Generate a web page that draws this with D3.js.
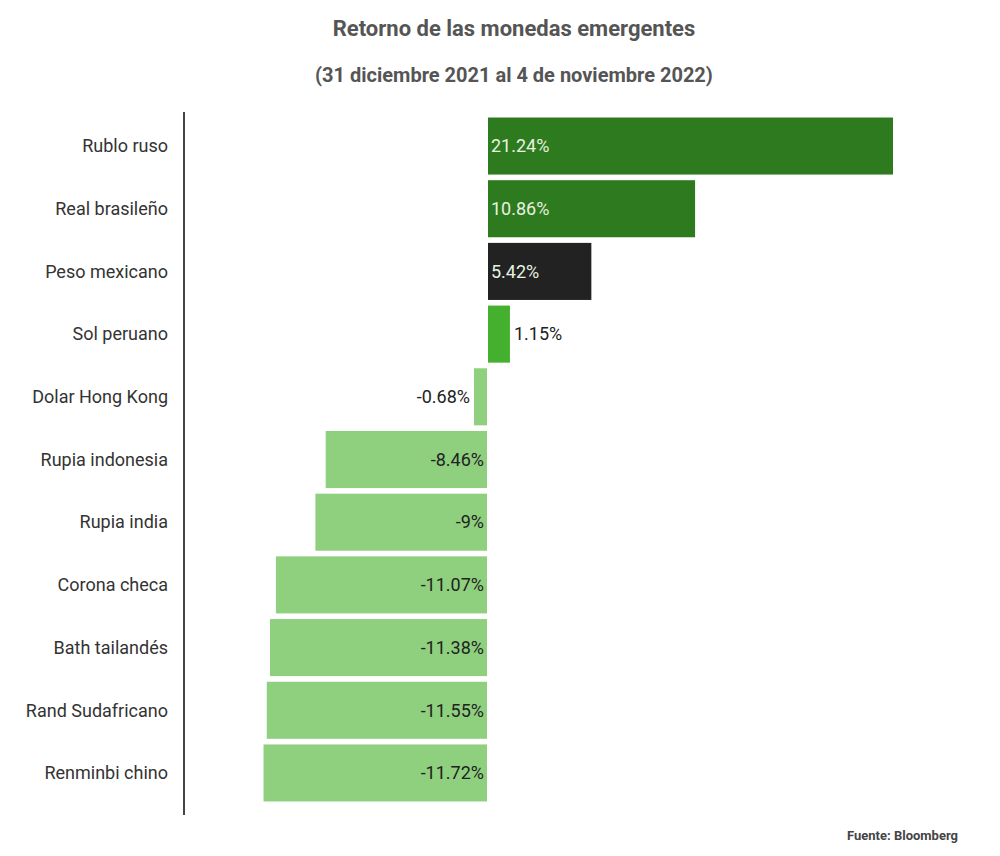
<!DOCTYPE html>
<html><head><meta charset="utf-8">
<script src="https://cdn.jsdelivr.net/npm/d3@7"></script>
<style>body{margin:0;background:#fff;font-family:Roboto,sans-serif}</style>
</head><body>
<script>
const categories = ['Rublo ruso','Real brasileño','Peso mexicano','Sol peruano','Dolar Hong Kong','Rupia indonesia','Rupia india','Corona checa','Bath tailandés','Rand Sudafricano','Renminbi chino'];
const values = [21.24, 10.86, 5.42, 1.15, -0.68, -8.46, -9, -11.07, -11.38, -11.55, -11.72];
const colors = ['#2e7a1e','#2e7a1e','#222222','#44b02e','#8fd07f','#8fd07f','#8fd07f','#8fd07f','#8fd07f','#8fd07f','#8fd07f'];

const W = 1000, H = 856;
const svg = d3.select('body').append('svg').attr('width', W).attr('height', H);

const x = d3.scaleLinear().domain([0, 21.24]).range([487, 892]);
const y = d3.scaleBand().domain(categories).range([115, 804]).paddingInner(0.09).paddingOuter(0.04);

svg.append('text').attr('x', 514).attr('y', 36).attr('text-anchor', 'middle')
  .attr('font-size', 22).attr('font-weight', 700).attr('fill', '#555').text('Retorno de las monedas emergentes');
svg.append('text').attr('x', 514).attr('y', 82).attr('text-anchor', 'middle')
  .attr('font-size', 20).attr('font-weight', 700).attr('fill', '#555').text('(31 diciembre 2021 al 4 de noviembre 2022)');

svg.append('line').attr('x1', 184).attr('x2', 184).attr('y1', 112).attr('y2', 815)
  .attr('stroke', '#444').attr('stroke-width', 2);

svg.selectAll('.cat').data(categories).enter().append('text')
  .attr('x', 168).attr('y', d => y(d) + y.bandwidth() / 2).attr('dy', '0.35em')
  .attr('text-anchor', 'end').attr('font-size', 18).attr('fill', '#333').text(d => d);

svg.selectAll('.bar').data(values).enter().append('rect')
  .attr('x', d => d >= 0 ? x(0) + 1 : x(d))
  .attr('y', (d, i) => y(categories[i]))
  .attr('width', d => Math.abs(x(d) - x(0)))
  .attr('height', y.bandwidth())
  .attr('fill', (d, i) => colors[i]);

svg.selectAll('.val').data(values).enter().append('text')
  .attr('y', (d, i) => y(categories[i]) + y.bandwidth() / 2).attr('dy', '0.35em')
  .attr('font-size', 18)
  .each(function (d, i) {
    const t = d3.select(this);
    const inside = Math.abs(d) > 3;
    if (d >= 0) {
      t.attr('x', inside ? x(0) + 4 : x(d) + 5).attr('text-anchor', 'start')
       .attr('fill', inside ? '#e8f2e0' : '#222');
    } else {
      t.attr('x', inside ? x(0) - 3 : x(d) - 4).attr('text-anchor', 'end').attr('fill', '#222');
    }
  })
  .text(d => d + '%');

svg.append('text').attr('x', 958).attr('y', 840).attr('text-anchor', 'end')
  .attr('font-size', 13).attr('font-weight', 700).attr('fill', '#444').text('Fuente: Bloomberg');
</script>
</body></html>
